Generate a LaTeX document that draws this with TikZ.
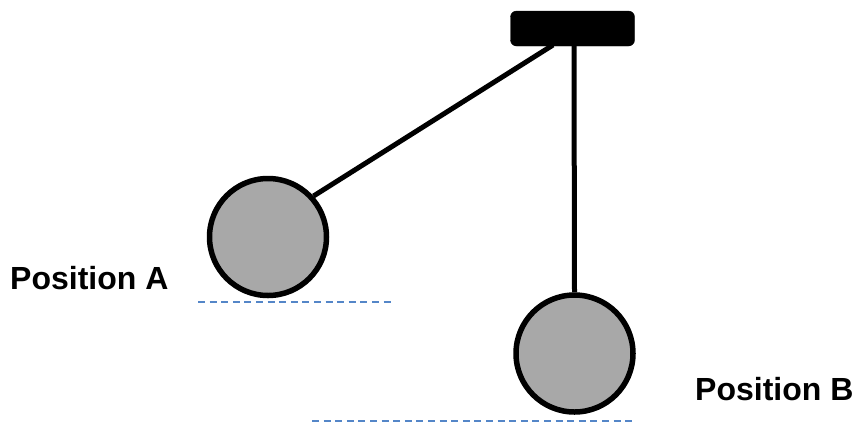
\documentclass[tikz,border=0pt]{standalone}
\usepackage{fontspec}
\setmainfont{Liberation Sans}
\usepackage{tikz}
\usetikzlibrary{positioning,calc}
\definecolor{lineblue}{RGB}{84,134,200}
\tikzset{bob/.style={circle, draw=black, line width=5.5pt, fill=black!34, minimum size=117pt, inner sep=0pt},
mount/.style={draw=black, fill=black, rounded corners=6pt, minimum width=124pt, minimum height=35pt, inner sep=0pt},
cord/.style={line width=5pt, black},
level/.style={lineblue, line width=1.5pt, dash pattern=on 7pt off 4.6pt},
poslabel/.style={anchor=base west, inner sep=0pt, font=\fontsize{32}{38}\selectfont\bfseries}}
\begin{document}
\begin{tikzpicture}[x=1pt,y=-1pt]
\useasboundingbox (0,0) rectangle (857,424);
\node[mount] (m) at (572.5,28.5) {};
\coordinate (m1) at (553,45);
\coordinate (m2) at (574,45);
\node[bob] (bA) at (268,237) {};
\node[bob] (bB) at (574.5,353.5) {};
\draw[cord] (m1) -- (bA.42);
\draw[cord] (m2) -- (bB.north);
\node[poslabel] (pA) at (10,289) {Position A};
\node[poslabel] (pB) at (695,400) {Position B};
\coordinate (a1) at (198,302);
\coordinate (a2) at (395,302);
\coordinate (b1) at (312,421);
\coordinate (b2) at (636,421);
\draw[level] (a1) -- (a2);
\draw[level] (b1) -- (b2);
\end{tikzpicture}
\end{document}
